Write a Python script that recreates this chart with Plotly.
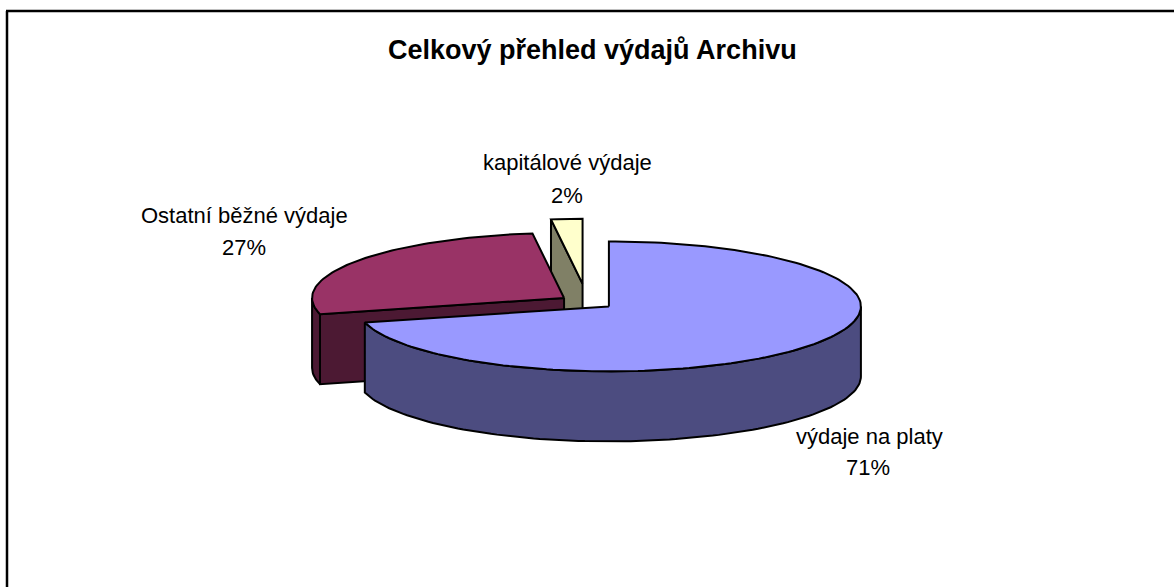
import math
import plotly.graph_objects as go

# ---- data ----
categories = ["výdaje na platy", "Ostatní běžné výdaje", "kapitálové výdaje"]
values = [71, 27, 2]
top_colors = ["#9999FF", "#993366", "#FFFFCC"]
side_colors = ["#4C4C80", "#4C1933", "#808066"]
pulls = [0.11, 0.11, 0.28]

title_text = "Celkový přehled výdajů Archivu"

# ---- layout constants (pixel space) ----
W, H = 1174, 587
CX, CY = 587, 302      # pie centre
RX, RY = 252, 65       # ellipse radii of top face
DEPTH = 70             # thickness
label_pos = {          # name-line centre, percent-line centre
    "výdaje na platy": ((869, 436), (868, 467)),
    "Ostatní běžné výdaje": ((244, 215), (244, 247)),
    "kapitálové výdaje": ((567, 162), (567, 195)),
}

total = float(sum(values))
fig = go.Figure()


def pt(ax, ay, th, dz=0.0):
    return ax + RX * math.sin(th), ay - RY * math.cos(th) + dz


def arc(ax, ay, t0, t1, dz=0.0, n=None):
    if n is None:
        n = max(2, int(abs(t1 - t0) / (2 * math.pi) * 240) + 2)
    return [pt(ax, ay, t0 + (t1 - t0) * i / (n - 1), dz) for i in range(n)]


def poly(points, fill):
    xs = [p[0] for p in points] + [points[0][0]]
    ys = [p[1] for p in points] + [points[0][1]]
    fig.add_trace(go.Scatter(
        x=xs, y=ys, mode="lines", fill="toself", fillcolor=fill,
        line=dict(color="black", width=2), hoverinfo="skip", showlegend=False))


slices = []
cum = 0.0
for name, v, tc, sc, p in zip(categories, values, top_colors, side_colors, pulls):
    t0 = 2 * math.pi * cum / total
    cum += v
    t1 = 2 * math.pi * cum / total
    mid = (t0 + t1) / 2
    ax = CX + p * RX * math.sin(mid)
    ay = CY - p * RY * math.cos(mid)
    slices.append(dict(name=name, v=v, tc=tc, sc=sc, t0=t0, t1=t1, mid=mid, ax=ax, ay=ay))

# back to front
for s in sorted(slices, key=lambda s: -math.cos(s["mid"])):
    ax, ay, t0, t1 = s["ax"], s["ay"], s["t0"], s["t1"]
    # radial faces
    for th, nrm in ((t0, t0 - math.pi / 2), (t1, t1 + math.pi / 2)):
        if -math.cos(nrm) > 1e-6:
            o = pt(ax, ay, th)
            poly([(ax, ay), o, (o[0], o[1] + DEPTH), (ax, ay + DEPTH)], s["sc"])
    # outer wall (front half only)
    lo = max(t0, math.pi / 2)
    hi = min(t1, 3 * math.pi / 2)
    if hi > lo:
        top = arc(ax, ay, lo, hi)
        bot = arc(ax, ay, lo, hi, DEPTH)
        poly(top + bot[::-1], s["sc"])
    # top face
    poly([(ax, ay)] + arc(ax, ay, t0, t1), s["tc"])

FONT = "Liberation Sans, Arial, sans-serif"
for s in slices:
    (nx, ny), (px, py) = label_pos[s["name"]]
    fig.add_annotation(x=nx, y=ny, text=s["name"], showarrow=False,
                       font=dict(family=FONT, size=22, color="black"),
                       xanchor="center", yanchor="middle")
    fig.add_annotation(x=px, y=py, text=f"{round(s['v'] / total * 100)}%", showarrow=False,
                       font=dict(family=FONT, size=22, color="black"),
                       xanchor="center", yanchor="middle")

fig.add_annotation(x=592, y=50, text=f"<b>{title_text}</b>", showarrow=False,
                   font=dict(family=FONT, size=27, color="black"),
                   xanchor="center", yanchor="middle")

# chart-area border (left and top edges visible)
fig.add_shape(type="line", x0=7, y0=11, x1=7, y1=H + 5, line=dict(color="black", width=2.5))
fig.add_shape(type="line", x0=6, y0=11, x1=W + 5, y1=11, line=dict(color="black", width=2.5))

fig.update_layout(
    width=W, height=H, autosize=False,
    margin=dict(l=0, r=0, t=0, b=0),
    paper_bgcolor="white", plot_bgcolor="white",
    xaxis=dict(range=[0, W], visible=False, fixedrange=True),
    yaxis=dict(range=[H, 0], visible=False, fixedrange=True),
    showlegend=False,
)

fig.write_html("out.html", config={"displayModeBar": False},
               post_script="document.body.style.margin='0';document.body.style.overflow='hidden';")
